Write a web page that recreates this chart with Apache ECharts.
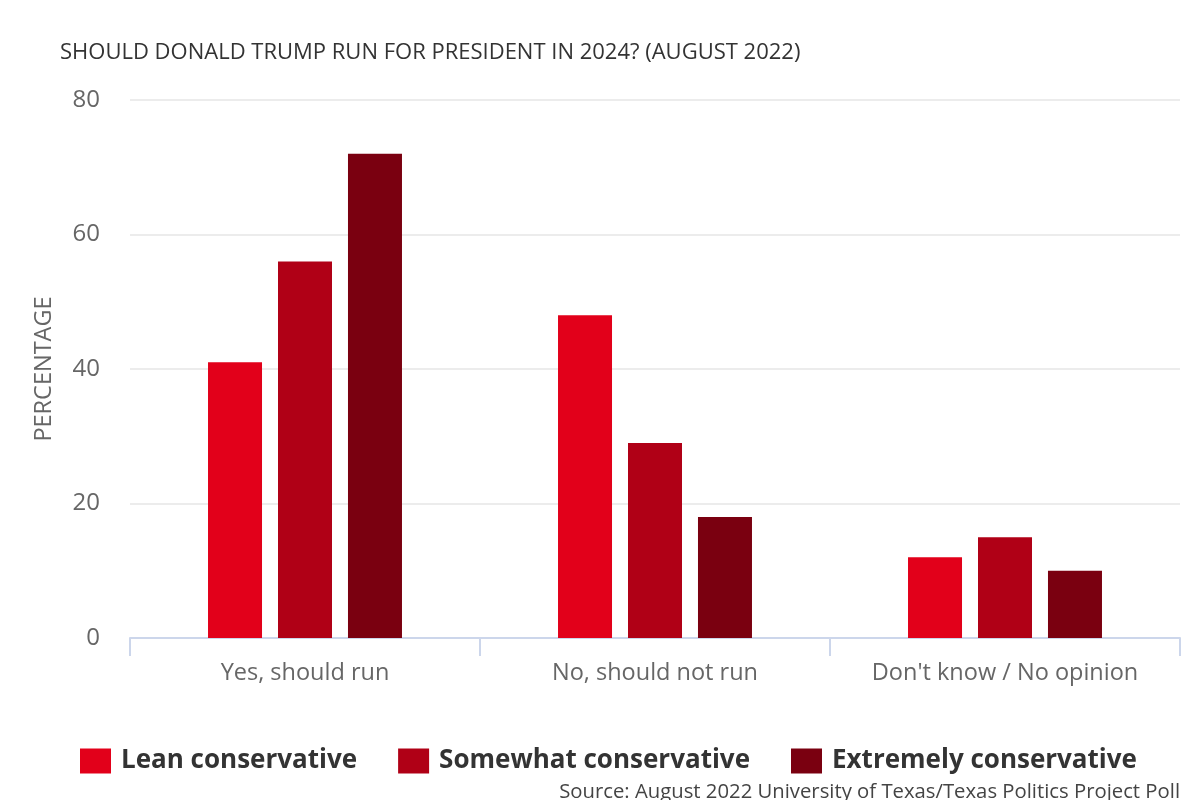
<!DOCTYPE html>
<html>
<head>
<meta charset="utf-8">
<script src="https://cdn.jsdelivr.net/npm/echarts@6/dist/echarts.min.js"></script>
<style>html,body{margin:0;padding:0;background:#fff}#c{width:1200px;height:800px}</style>
</head>
<body>
<div id="c"></div>
<script>
const categories = ["Yes, should run", "No, should not run", "Don't know / No opinion"];
const seriesNames = ["Lean conservative", "Somewhat conservative", "Extremely conservative"];
const leanValues = [41, 48, 12];
const somewhatValues = [56, 29, 15];
const extremelyValues = [72, 18, 10];
const seriesColors = ["#e2001a", "#b00016", "#7a0010"];
const yTicks = [0, 20, 40, 60, 80];

const chart = echarts.init(document.getElementById('c'), null, {renderer: 'canvas'});
const font = "'Open Sans', sans-serif";
const values = [leanValues, somewhatValues, extremelyValues];
chart.setOption({
  animation: false,
  textStyle: {fontFamily: font},
  title: {
    text: "SHOULD DONALD TRUMP RUN FOR PRESIDENT IN 2024? (AUGUST 2022)",
    left: 55, top: 37,
    textStyle: {fontFamily: font, fontSize: 22, fontWeight: 'normal', color: '#333'}
  },
  legend: {
    left: 75, top: 743,
    itemWidth: 31, itemHeight: 25, itemGap: 41,
    icon: 'rect',
    textStyle: {fontFamily: font, fontSize: 26, fontWeight: 'bold', color: '#333', padding: [0, 0, 0, 5]},
    data: seriesNames
  },
  graphic: [{
    type: 'text', right: 20, top: 782,
    style: {text: "Source: August 2022 University of Texas/Texas Politics Project Poll", font: "20.3px 'Open Sans', sans-serif", fill: '#444'}
  }],
  grid: {left: 130, right: 20, top: 100, bottom: 162},
  xAxis: {
    type: 'category', data: categories,
    axisLine: {lineStyle: {color: '#ccd6eb', width: 2}},
    axisTick: {show: true, length: 18, alignWithLabel: false, lineStyle: {color: '#ccd6eb', width: 2}},
    axisLabel: {fontFamily: font, fontSize: 23.5, color: '#666', margin: 23}
  },
  yAxis: {
    type: 'value', min: 0, max: 80, interval: 20,
    name: 'PERCENTAGE', nameLocation: 'middle', nameGap: 74,
    nameTextStyle: {fontFamily: font, fontSize: 23.5, color: '#666'},
    axisLabel: {fontFamily: font, fontSize: 24, color: '#666', margin: 30,
      formatter: v => yTicks.includes(v) ? String(v) : ''},
    splitLine: {lineStyle: {color: '#e6e6e6', width: 1.5}},
    axisLine: {show: false}, axisTick: {show: false}
  },
  series: seriesNames.map((n, i) => ({
    name: n, type: 'bar', data: values[i],
    barWidth: 54, barGap: '29.6%',
    itemStyle: {color: seriesColors[i]}
  }))
});
</script>
</body>
</html>
